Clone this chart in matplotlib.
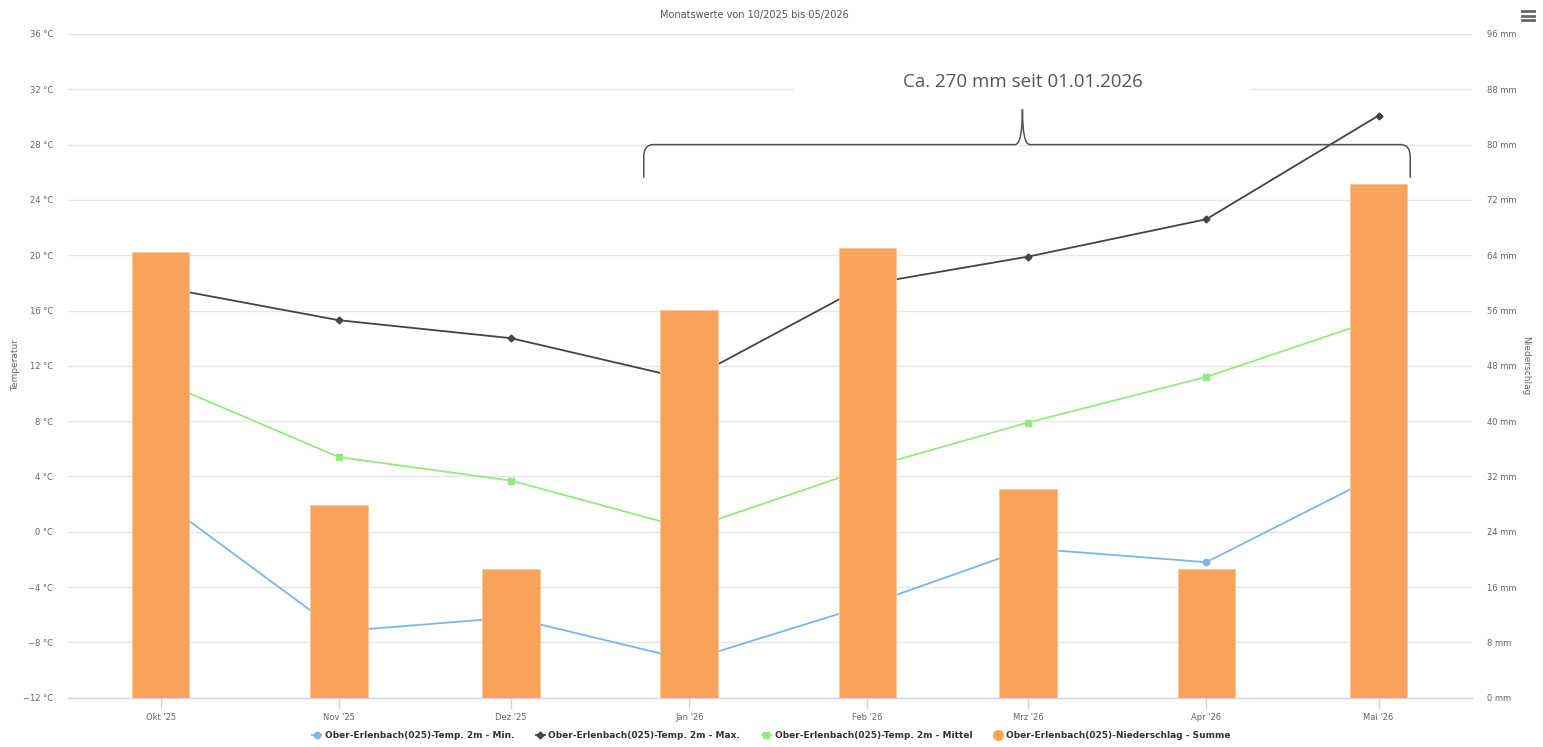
import matplotlib
matplotlib.use('Agg')
import matplotlib.pyplot as plt
import matplotlib.dates as mdates
from matplotlib.path import Path
from matplotlib.patches import PathPatch, Rectangle
from matplotlib.lines import Line2D
from datetime import datetime

# monthly values
months = [datetime(2025, 10, 1), datetime(2025, 11, 1), datetime(2025, 12, 1),
          datetime(2026, 1, 1), datetime(2026, 2, 1), datetime(2026, 3, 1),
          datetime(2026, 4, 1), datetime(2026, 5, 1)]
month_labels = ["Okt '25", "Nov '25", "Dez '25", "Jan '26",
                "Feb '26", "Mrz '26", "Apr '26", "Mai '26"]
temp_min = [2.3, -7.2, -6.2, -9.3, -5.3, -1.2, -2.2, 4.1]
temp_max = [17.7, 15.3, 14.0, 11.0, 17.9, 19.9, 22.6, 30.1]
temp_mean = [10.9, 5.4, 3.7, 0.2, 4.6, 7.9, 11.2, 15.4]
precip = [64.4, 27.8, 18.6, 56.1, 65.1, 30.2, 18.6, 74.3]

series_names = ['Ober-Erlenbach(025)-Temp. 2m - Min.',
                'Ober-Erlenbach(025)-Temp. 2m - Max.',
                'Ober-Erlenbach(025)-Temp. 2m - Mittel',
                'Ober-Erlenbach(025)-Niederschlag - Summe']

TITLE = 'Monatswerte von 10/2025 bis 05/2026'
NOTE = 'Ca. 270 mm seit 01.01.2026'

C_MIN = '#7cb5ec'
C_MAX = '#434348'
C_MEAN = '#90ed7d'
C_BAR = '#f7a35c'
C_GRID = '#e6e6e6'
C_AXIS = '#ccd6eb'
C_LABEL = '#666666'

x = mdates.date2num(months)

fig = plt.figure(figsize=(15.43, 7.47), dpi=100)
ax = fig.add_axes([0.04426, 0.0660, 0.9097, 0.8885])
ax2 = ax.twinx()

# temperature lines (drawn below the columns)
ax.plot(x, temp_min, color=C_MIN, lw=1.3, marker='o', ms=4.5, zorder=2)
ax.plot(x, temp_max, color=C_MAX, lw=1.3, marker='D', ms=3.5, zorder=2)
ax.plot(x, temp_mean, color=C_MEAN, lw=1.3, marker='s', ms=4.2, zorder=2)

# precipitation columns
ax2.bar(x, precip, width=10, color=C_BAR, edgecolor='#fbc598', linewidth=0.6, zorder=2)

xmin = mdates.date2num(datetime(2025, 9, 14, 22))
xmax = mdates.date2num(datetime(2026, 5, 17, 6))
ax.set_xlim(xmin, xmax)

ax.set_ylim(-12, 36)
yt = list(range(-12, 37, 4))
ax.set_yticks(yt)
ax.set_yticklabels([f"{v} °C".replace('-', '\u2212') for v in yt])
ax2.set_ylim(0, 96)
yt2 = list(range(0, 97, 8))
ax2.set_yticks(yt2)
ax2.set_yticklabels([f"{v} mm" for v in yt2])

ax.set_xticks(x)
ax.set_xticklabels(month_labels)

ax.yaxis.grid(True, color=C_GRID, lw=1, zorder=0)
ax.set_axisbelow(True)
for a in (ax, ax2):
    for s in a.spines.values():
        s.set_visible(False)
ax.spines['bottom'].set_visible(True)
ax.spines['bottom'].set_color(C_AXIS)
ax.spines['bottom'].set_linewidth(1)

ax.tick_params(axis='y', length=0, pad=11, labelsize=6, labelcolor=C_LABEL)
ax2.tick_params(axis='y', length=0, pad=11, labelsize=6, labelcolor=C_LABEL)
ax.tick_params(axis='x', length=8, width=1, color=C_AXIS, pad=3,
               labelsize=6, labelcolor=C_LABEL)

fig.text(754 / 1543, 1 - 15 / 747, TITLE, ha='center', va='center',
         fontsize=7, color='#555555')
fig.text(16 / 1543, 1 - 365 / 747, 'Temperatur', rotation=90,
         ha='center', va='center', fontsize=6.5, color=C_LABEL)
fig.text(1526 / 1543, 1 - 366 / 747, 'Niederschlag', rotation=270,
         ha='center', va='center', fontsize=6.5, color=C_LABEL)

# curly brace annotation over Jan - Mai
bx0 = mdates.date2num(datetime(2025, 12, 24, 2))
bx1 = mdates.date2num(datetime(2026, 5, 6, 12))
btip = mdates.date2num(datetime(2026, 2, 28))
by, by_end, by_tip = 28.0, 25.6, 30.55
dx, dy = 1.6, 0.9
verts = [(bx0, by_end), (bx0, by - dy), (bx0, by), (bx0 + dx, by),
         (btip - 1.3, by), (btip, by), (btip, by_tip),
         (btip, by), (btip + 1.3, by),
         (bx1 - dx, by), (bx1, by), (bx1, by - dy), (bx1, by_end)]
codes = [Path.MOVETO, Path.LINETO, Path.CURVE3, Path.CURVE3,
         Path.LINETO, Path.CURVE3, Path.CURVE3,
         Path.CURVE3, Path.CURVE3,
         Path.LINETO, Path.CURVE3, Path.CURVE3, Path.LINETO]
ax.add_patch(PathPatch(Path(verts, codes), facecolor='none', edgecolor='#555555',
                       lw=1.1, zorder=5))

rx0 = mdates.date2num(datetime(2026, 1, 19, 10))
rx1 = mdates.date2num(datetime(2026, 4, 8, 20))
ax.add_patch(Rectangle((rx0, 31.0), rx1 - rx0, 3.2, facecolor='white',
                       edgecolor='none', zorder=4))
ax.text(btip, 32.55, NOTE, ha='center', va='center', fontsize=13.5,
        color='#555555', family=['Liberation Sans Narrow', 'Open Sans', 'DejaVu Sans'],
        zorder=6)

# export menu icon
for yy in (11, 15.5, 20):
    fig.add_artist(Line2D([1522 / 1543, 1534 / 1543], [1 - yy / 747] * 2,
                          color='#666666', lw=2))

handles = [Line2D([], [], color=C_MIN, lw=1.3, marker='o', ms=4.5),
           Line2D([], [], color=C_MAX, lw=1.3, marker='D', ms=3.5),
           Line2D([], [], color=C_MEAN, lw=1.3, marker='s', ms=4.2),
           Line2D([], [], color=C_BAR, lw=0, marker='o', ms=7)]
leg = fig.legend(handles, series_names, loc='center', bbox_to_anchor=(0.5, 1 - 736 / 747),
                 ncol=4, frameon=False, handlelength=1.0, handletextpad=0.4,
                 columnspacing=2.4, prop={'size': 6.5, 'weight': 'bold'})
for t in leg.get_texts():
    t.set_color('#333333')

fig.savefig('out.png', dpi=100)
